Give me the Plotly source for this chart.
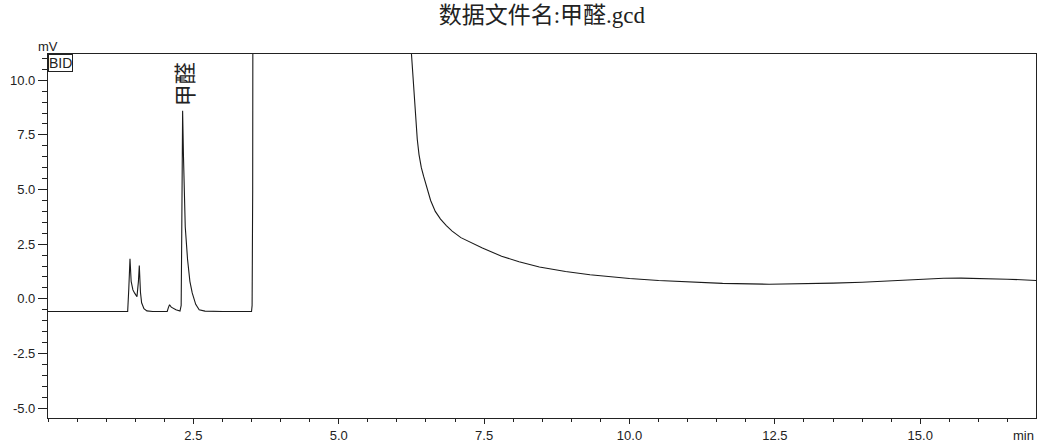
import plotly.graph_objects as go

# retention time (min) and detector signal (mV)
time_min = [0.0, 1.37, 1.39, 1.41, 1.43, 1.46, 1.49, 1.53, 1.555, 1.57, 1.59, 1.61, 1.65, 1.70, 1.80,
            2.05, 2.07, 2.09, 2.12, 2.20, 2.27, 2.29, 2.30, 2.315, 2.33, 2.34, 2.36, 2.40, 2.44, 2.48,
            2.54, 2.60, 2.70, 3.00, 3.50, 3.51, 3.52, 3.53, 3.60, 4.50, 6.00, 6.15, 6.24, 6.28, 6.31,
            6.35, 6.38, 6.42, 6.46, 6.52, 6.58, 6.66, 6.75, 6.85, 6.95, 7.10, 7.25, 7.47, 7.80, 8.10,
            8.45, 8.90, 9.32, 10.0, 10.5, 11.04, 11.6, 12.4, 13.0, 13.5, 14.0, 14.4, 15.0, 15.4, 15.7,
            16.1, 16.5, 17.0]
signal_mv = [-0.58, -0.58, 0.5, 1.83, 0.8, 0.41, 0.26, 0.1, 0.8, 1.52, 0.3, -0.18, -0.45, -0.55, -0.58,
             -0.58, -0.4, -0.27, -0.38, -0.5, -0.56, -0.3, 3.0, 8.6, 6.5, 4.8, 3.3, 1.8, 0.8, 0.27,
             -0.25, -0.5, -0.56, -0.58, -0.58, -0.3, 5.0, 30.0, 200.0, 500.0, 40.0, 15.0, 11.6, 10.0, 8.6,
             7.3, 6.6, 6.0, 5.6, 5.0, 4.5, 4.0, 3.65, 3.35, 3.1, 2.8, 2.6, 2.33, 1.95, 1.7,
             1.46, 1.25, 1.1, 0.93, 0.84, 0.76, 0.71, 0.67, 0.68, 0.72, 0.76, 0.81, 0.9, 0.94, 0.95,
             0.94, 0.9, 0.84]

x_tick_vals = [2.5, 5.0, 7.5, 10.0, 12.5, 15.0]
x_tick_text = ["2.5", "5.0", "7.5", "10.0", "12.5", "15.0"]
y_tick_vals = [-5.0, -2.5, 0.0, 2.5, 5.0, 7.5, 10.0]
y_tick_text = ["-5.0", "-2.5", "0.0", "2.5", "5.0", "7.5", "10.0"]

peak_name = "甲醛"
peak_time = 2.315
title_text = "数据文件名:甲醛.gcd"

fig = go.Figure()
fig.add_trace(go.Scatter(x=time_min, y=signal_mv, mode="lines",
                         line=dict(color="#1a1a1a", width=1.1), hoverinfo="skip"))

axis_font = dict(family="Liberation Sans, Arial, sans-serif", size=13, color="#222222")

fig.update_layout(
    width=1038, height=444,
    margin=dict(l=48, r=2, t=54, b=26),
    paper_bgcolor="white", plot_bgcolor="white",
    showlegend=False,
    title=dict(text=title_text, x=0.522, xanchor="center", y=0.985, yanchor="top",
               font=dict(family="Liberation Serif, Noto Sans CJK SC, serif", size=23, color="#222222")),
    xaxis=dict(range=[0, 16.99], showgrid=False, zeroline=False,
               showline=True, linecolor="#222222", linewidth=1.2, mirror=True,
               tickmode="array", tickvals=x_tick_vals, ticktext=x_tick_text,
               ticks="outside", ticklen=5, tickcolor="#222222", tickwidth=1,
               tickfont=axis_font,
               minor=dict(dtick=0.5, tick0=0, ticks="outside", ticklen=3, tickcolor="#222222", showgrid=False)),
    yaxis=dict(range=[-5.45, 11.2], showgrid=False, zeroline=False,
               showline=True, linecolor="#222222", linewidth=1.2, mirror=True,
               tickmode="array", tickvals=y_tick_vals, ticktext=y_tick_text,
               ticks="outside", ticklen=9, tickcolor="#222222", tickwidth=1,
               tickfont=axis_font,
               minor=dict(dtick=0.5, tick0=0, ticks="outside", ticklen=5, tickcolor="#222222", showgrid=False)),
)

fig.add_annotation(text="mV", xref="paper", yref="paper", x=0, y=1, xanchor="center", yanchor="bottom",
                   showarrow=False, font=axis_font, yshift=-2)
fig.add_annotation(text="min", xref="paper", yref="paper", x=1, y=0, xanchor="right", yanchor="top",
                   showarrow=False, font=axis_font, yshift=-8)
fig.add_annotation(text="BID", xref="paper", yref="paper", x=0, y=1, xanchor="left", yanchor="top",
                   showarrow=False, font=dict(family="Liberation Sans, Arial, sans-serif", size=14, color="#222222"),
                   bordercolor="#222222", borderwidth=1, borderpad=0, bgcolor="white")
fig.add_annotation(text=peak_name, x=peak_time, y=8.7, xref="x", yref="y", textangle=-90,
                   xanchor="center", yanchor="bottom", showarrow=False,
                   font=dict(family="Noto Sans CJK SC", size=22, color="#222222"), xshift=0)

# remove the default page margin so the figure sits at the window's top-left corner
fig.write_html("out.html", config={"displayModeBar": False},
               post_script="document.body.style.margin='0';document.body.style.overflow='hidden';")
